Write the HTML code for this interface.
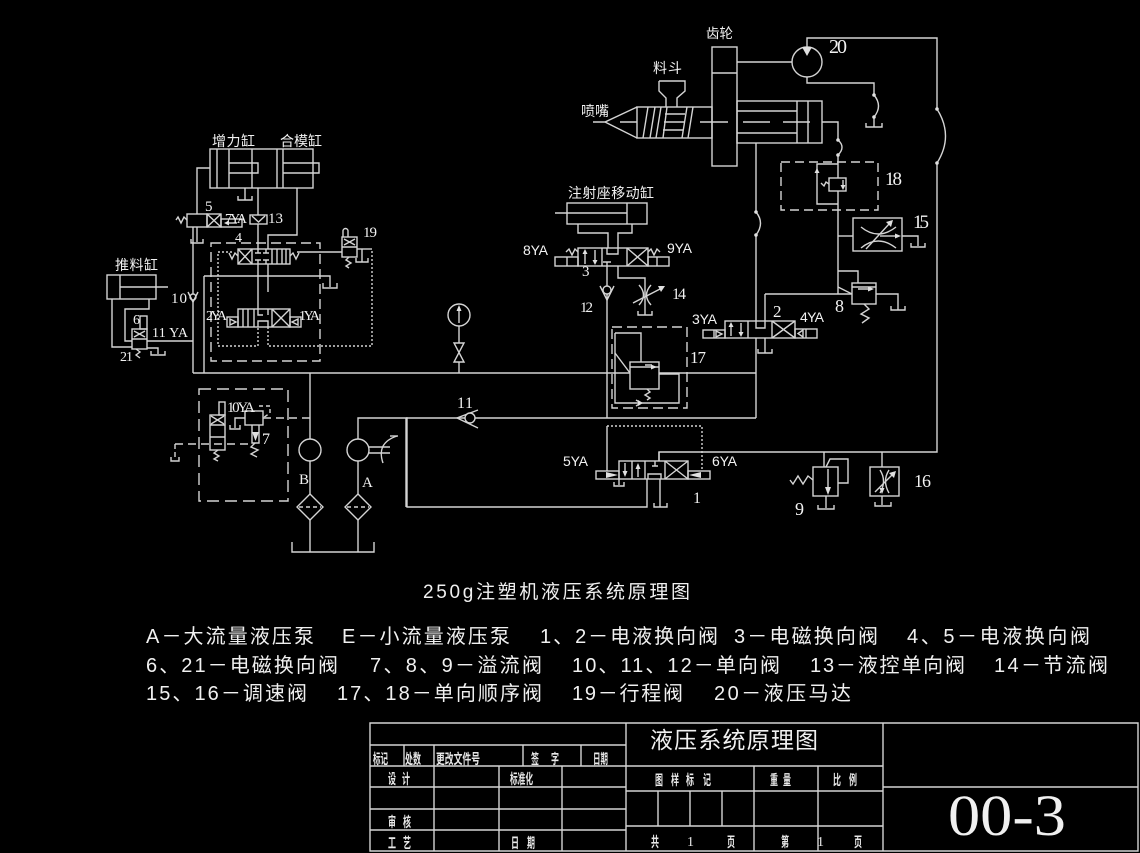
<!DOCTYPE html>
<html><head><meta charset="utf-8">
<style>
html,body{margin:0;padding:0;background:#000;}
svg{display:block}
.s{font-family:"Liberation Serif","Noto Serif CJK SC",serif}
.a{font-family:"Liberation Sans",sans-serif}
.c{font-family:"Liberation Sans","Noto Sans CJK SC",sans-serif}
</style></head><body>
<svg width="1140" height="853" viewBox="0 0 1140 853" xmlns="http://www.w3.org/2000/svg">
<rect width="1140" height="853" fill="#000"/>
<g fill="none" stroke="#d4d4d4" stroke-width="1.4">
<!-- main lines -->
<path d="M193,373H756"/>
<path d="M406,418H756"/>
<path d="M193,227V373"/>
<path d="M204,276V373"/>
<path d="M204,276H330V287M323,283V288H337V283"/>
<!-- clamp cylinders -->
<rect x="210" y="149" width="103" height="39"/>
<path d="M217,149V188M229,149V188M252,149V188M277,149V188M283,149V188"/>
<path d="M229,163H258V173H229M283,163H319V173H283"/>
<path d="M245,188V200M238,196V200H252V196"/>
<path d="M210,168H197V214"/>
<!-- valve 5 -->
<rect x="187" y="214" width="20" height="13"/>
<rect x="207" y="214" width="14" height="13"/>
<path d="M207,214L221,227M221,214L207,227"/>
<rect x="221" y="219" width="21" height="8"/>
<path d="M226,223H237"/>
<path d="M187,220L184,217L181,223L178,217L176,220"/>
<path d="M197,227V242M191,239V243H203V239"/>
<!-- check 13 -->
<rect x="250" y="215" width="17" height="9"/>
<path d="M252,216L258.5,222L265,216"/>
<path d="M258,188V215M258,224V249M258,264V309"/>
<path d="M297,188V235H268V249M268,264V292"/>
<!-- valve 4 -->
<rect x="238" y="249" width="52" height="15"/>
<path d="M252,249V264M272,249V264"/>
<path d="M238,249L252,264M252,249L238,264"/>
<path d="M258,249V253M255,253H261M258,264V260M255,260H261M266,249V253M263,253H269M266,264V260M263,260H269"/>
<path d="M277,249V264M282,249V264M286,249V264"/>
<path d="M238,256L235,253L232,259L229,253"/>
<path d="M290,256L293,253L296,259L299,253"/>
<path d="M297,252H342"/>
<rect x="211" y="243" width="109" height="118" stroke-dasharray="10,5"/>
<path d="M232,252H218V346H258V327M268,327V346H372V249" stroke-dasharray="2,2"/>
<path d="M357,249H372"/>
<path d="M362,249V262M356,258V262H368V258"/>
<!-- lower valve -->
<rect x="238" y="309" width="52" height="18"/>
<path d="M254,309V327M272,309V327M243,309V327M248,309V327"/>
<path d="M258,309V315H263M268,309V315M258,327V321H268V327"/>
<path d="M272,309L290,327M290,309L272,327"/>
<rect x="227" y="317" width="11" height="10"/>
<rect x="290" y="317" width="11" height="10"/>
<path d="M236,322L230,319V325Z"/>
<path d="M292,322L298,319V325Z"/>
<!-- push cylinder -->
<rect x="107" y="275" width="49" height="24"/>
<path d="M120,275V299M120,287H168"/>
<path d="M112,299V347H132M149,299V309H125V341H132"/>
<rect x="132" y="329" width="15" height="20"/>
<path d="M132,339H147M134,331L145,337M145,331L134,337"/>
<rect x="140" y="316" width="7" height="13"/>
<path d="M136,349L140,352L136,355L140,358"/>
<path d="M147,341H193"/>
<path d="M147,348H158V354M151,351V355H165V351"/>
<circle cx="193" cy="297" r="3" fill="#000"/>
<path d="M188,292L193,302L198,292"/>
<!-- valve 19 -->
<rect x="342" y="237" width="15" height="20"/>
<path d="M342,247H357M344,239L355,245M355,239L344,245"/>
<path d="M343,237V231A2.5,2.5 0 0 1 348,231V237"/>
<path d="M349,257L346,260L351,263L346,266L349,268"/>
<!-- pumps -->
<path d="M310,373V439"/>
<circle cx="310" cy="450" r="11"/>
<path d="M310,461V494"/>
<path d="M310,494L323,507L310,520L297,507Z"/>
<path d="M299,507H321" stroke-dasharray="4,3"/>
<path d="M310,520V552"/>
<circle cx="358" cy="450" r="11"/>
<path d="M358,439V418H407V507H647V479"/>
<path d="M358,461V494"/>
<path d="M358,494L371,507L358,520L345,507Z"/>
<path d="M347,507H369" stroke-dasharray="4,3"/>
<path d="M358,520V552"/>
<path d="M369,447H390M369,453H390"/>
<path d="M397,436Q376,443 383,463"/>
<path d="M390,436H398"/>
<path d="M292,542V552H374V542"/>
<!-- 10YA box -->
<rect x="199" y="389" width="89" height="112" stroke-dasharray="12,6"/>
<rect x="210" y="415" width="15" height="35"/>
<path d="M210,425H225M210,437H225M211,416L224,424M224,416L211,424"/>
<rect x="219" y="402" width="6" height="13"/>
<path d="M218,450L214,453L219,456L214,459L218,461"/>
<rect x="245" y="411" width="18" height="14"/>
<path d="M252,425V443H259V425"/>
<path d="M255,443L251,447L258,450L251,454L257,457"/>
<path d="M263,418H310" stroke-dasharray="8,5"/>
<path d="M175,444H252" stroke-dasharray="8,5"/>
<path d="M175,444V458" stroke-dasharray="5,3"/>
<path d="M171,457V461H179V457"/>
<path d="M245,418H235V428M230,425V429H240V425"/>
<path d="M259,406H270V413L263,418" stroke-dasharray="4,3"/>
<!-- gauge -->
<circle cx="459" cy="315" r="11"/>
<path d="M459,323V309"/>
<path d="M459,326V343"/>
<path d="M454,343H464L454,362H464Z"/>
<path d="M459,362V373"/>
<!-- check 11 -->
<path d="M406,418V507"/>
<path d="M478,410L457,418L478,428"/>
<circle cx="470" cy="418" r="5" fill="#000"/>
<!-- injection seat cylinder -->
<rect x="567" y="203" width="80" height="21"/>
<path d="M627,203V224M555,213H627"/>
<path d="M578,224V233H608V248M632,224V233H618V248"/>
<rect x="578" y="248" width="70" height="18"/>
<path d="M602,248V266M627,248V266"/>
<path d="M585,252V264M595,250V262"/>
<path d="M607,248V254H618V248M603,262H611M607,262V266"/>
<path d="M627,248L648,266M648,248L627,266"/>
<rect x="555" y="257" width="23" height="9"/>
<path d="M567,257V266"/>
<rect x="648" y="257" width="21" height="9"/>
<path d="M657,257V266"/>
<path d="M578,252L575,249L572,255L569,249L566,252"/>
<path d="M648,252L651,249L654,255L657,249L660,252"/>
<path d="M607,266V418"/>
<path d="M618,266V278H645V315M638,311V315H652V311"/>
<path d="M600,286L607,300L614,286"/>
<circle cx="607" cy="290" r="4" fill="#000"/>
<path d="M639,285Q648,295 639,305M651,285Q642,295 651,305"/>
<path d="M633,303L662,288"/>
<!-- box 17 -->
<rect x="612" y="327" width="75" height="81" stroke-dasharray="10,5"/>
<path d="M615,333H641V362M615,333V403H679V374H659"/>
<rect x="630" y="362" width="29" height="27" fill="#000"/>
<path d="M630,367H659M645,365H652"/>
<path d="M615,353L630,373"/>
<path d="M647,389L650,392L645,395L650,398L647,400"/>
<path d="M636,400L641,403L636,406"/>
<!-- valve 2 -->
<path d="M756,143V212M756,212Q765,223 756,235M756,235V321M756,338V418"/>
<rect x="725" y="321" width="70" height="17"/>
<path d="M748,321V338M772,321V338"/>
<path d="M731,325V336M741,323V334"/>
<path d="M756,321V328H765V321"/>
<path d="M772,321L795,338M795,321L772,338"/>
<rect x="703" y="330" width="22" height="8"/>
<path d="M714,330V338M716,331L722,334L716,337Z"/>
<rect x="795" y="329" width="22" height="9"/>
<path d="M806,329V338M803,330L798,333.5L803,337Z"/>
<path d="M765,294V321"/>
<path d="M765,338V353M758,349V353H772V349"/>
<path d="M765,294H852"/>
<!-- valve 8 -->
<path d="M838,155V294"/>
<rect x="852" y="283" width="24" height="21"/>
<path d="M852,287H876M858,289H871"/>
<path d="M838,271H858V283M838,287L852,294"/>
<path d="M876,294H898V310M891,306V310H905V306"/>
<path d="M864,304L869,309L861,314L869,318L862,323"/>
<!-- 15 -->
<rect x="853" y="218" width="49" height="33"/>
<path d="M861,227Q878,241 896,227M861,248Q878,234 896,248"/>
<path d="M866,249L890,223"/>
<path d="M880,236H895"/>
<path d="M838,236H853"/>
<path d="M902,236H918V246M911,243V247H925V243"/>
<!-- 18 -->
<rect x="781" y="162" width="97" height="48" stroke-dasharray="9,5"/>
<path d="M838,164H817V204H838"/>
<rect x="829" y="178" width="17" height="13" fill="#000"/>
<path d="M843,180V187"/>
<path d="M829,184L826,182L824,186L821,183"/>
<!-- motor 20 -->
<circle cx="807" cy="62" r="15"/>
<path d="M737,62H792"/>
<path d="M807,47V38H937V109"/>
<path d="M937,109Q954,136 937,163"/>
<path d="M937,163V452H659V461"/>
<path d="M807,77V83H874V95"/>
<path d="M874,95Q883,106 874,117"/>
<path d="M874,117V127M866,123V127H882V123"/>
<!-- gear & barrel -->
<rect x="712" y="47" width="25" height="119"/>
<path d="M712,73H737"/>
<rect x="637" y="107" width="75" height="31"/>
<path d="M593,122H605L637,107M605,122L637,138"/>
<path d="M643,138L648,107M650,138L655,107M656,138L661,107M663,138L667,107M682,138L687,107M688,138L693,107M665,114H685M664,122H684M663,130H683"/>
<path d="M620,122H637M700,122H728M743,122H770M783,122H810"/>
<path d="M659,81H685V91L677,98V107M659,81V91L666,98V107"/>
<rect x="737" y="101" width="85" height="42"/>
<path d="M737,111H797M737,133H797M797,101V143M808,101V143"/>
<path d="M822,122H838V140"/>
<path d="M838,140Q846,147 838,155"/>
<!-- 9 -->
<rect x="813" y="467" width="25" height="29"/>
<path d="M828,469V488"/>
<path d="M824,452V467M826,467L830,459H848V483H838"/>
<path d="M813,480L808,476L803,484L798,476L793,484L790,480"/>
<path d="M826,496V508M818,505V509H834V505"/>
<!-- 16 -->
<rect x="870" y="467" width="29" height="29"/>
<path d="M880,470Q887,481 880,493M889,470Q882,481 889,493"/>
<path d="M875,492L893,474"/>
<path d="M882,452V467"/>
<path d="M882,496V505M875,502V506H891V502"/>
<!-- valve 1 -->
<rect x="619" y="461" width="69" height="18"/>
<path d="M632,461V479M645,461V479M665,461V479"/>
<path d="M625,463V472M638,468V477"/>
<path d="M648,479V474H661V479M655,461V466M652,466H658"/>
<path d="M665,461L688,479M688,461L665,479"/>
<rect x="596" y="471" width="23" height="8"/>
<rect x="688" y="471" width="22" height="8"/>
<path d="M607,426V471"/>
<path d="M607,426H702V471" stroke-dasharray="2,2"/>
<path d="M659,452V461"/>
<path d="M660,479V507M654,503V507H667V503"/>
<path d="M619,479V485M614,482V486H624V482"/>
<!-- title block -->
<path d="M370,723H1138V851H370Z"/>
<path d="M626,723V851M883,723V851"/>
<path d="M370,745H626M370,766H883M370,787H626M370,809H626M370,830H626"/>
<path d="M404,745V766M434,745V851M523,745V766M581,745V766M499,766V851M562,766V851"/>
<path d="M626,791H883M626,826H883M754,766V851M818,766V851M658,791V826M690,791V826M722,791V826"/>
<path d="M883,787H1138"/>
</g>
<!-- filled arrowheads / dots -->
<g fill="#e0e0e0" stroke="none">
<polygon points="224,223 229,220.5 229,225.5"/>
<polygon points="459,305 456.5,311 461.5,311"/>
<polygon points="585,249 582.5,254 587.5,254"/>
<polygon points="595,265 592.5,260 597.5,260"/>
<polygon points="665,286 658,286 661,292"/>
<polygon points="657,367 651,364.5 651,369.5"/>
<polygon points="731,322 728.5,327 733.5,327"/>
<polygon points="741,337 738.5,332 743.5,332"/>
<polygon points="874,289 868,286.5 868,291.5"/>
<polygon points="893,220 886,222 891,227"/>
<polygon points="901,236 895,233.5 895,238.5"/>
<polygon points="843,190 840.5,185 845.5,185"/>
<polygon points="817,168 814.5,173 819.5,173"/>
<polygon points="802,47 812,47 807,56"/>
<polygon points="828,495 825,487 831,487"/>
<polygon points="896,471 889,473 894,478"/>
<polygon points="882,494 879.5,488 884.5,488"/>
<polygon points="625,477 622.5,471 627.5,471"/>
<polygon points="638,463 635.5,469 640.5,469"/>
<polygon points="606,472 618,475 606,478"/>
<polygon points="701,472 689,475 701,478"/>
<polygon points="252,432 259,432 255.5,441"/>
<polygon points="638,400 643,403 638,406"/>
<circle cx="937" cy="109" r="1.8"/><circle cx="937" cy="163" r="1.8"/>
<circle cx="874" cy="95" r="1.8"/><circle cx="874" cy="117" r="1.8"/>
<circle cx="838" cy="140" r="1.8"/><circle cx="838" cy="155" r="1.8"/>
<circle cx="756" cy="212" r="1.8"/><circle cx="756" cy="235" r="1.8"/>
</g>
<!-- labels -->
<g fill="#f2f2f2">
<text class="c" x="212" y="146" font-size="14" textLength="43">增力缸</text>
<text class="c" x="280" y="146" font-size="14" textLength="42">合模缸</text>
<text class="c" x="115" y="270" font-size="14" textLength="43">推料缸</text>
<text class="c" x="568" y="198" font-size="14" textLength="86">注射座移动缸</text>
<text class="c" x="706" y="38" font-size="13.5" textLength="27">齿轮</text>
<text class="c" x="653" y="73" font-size="14" textLength="29">料斗</text>
<text class="c" x="581" y="116" font-size="14" textLength="28">喷嘴</text>
<text class="s" x="829" y="53" font-size="20" textLength="18">20</text>
<text class="s" x="885" y="185" font-size="19" textLength="17">18</text>
<text class="s" x="913" y="228" font-size="19" textLength="16">15</text>
<text class="s" x="914" y="487" font-size="18" textLength="17">16</text>
<text class="s" x="795" y="515" font-size="18">9</text>
<text class="s" x="835" y="312" font-size="18">8</text>
<text class="s" x="773" y="317" font-size="17">2</text>
<text class="a" x="800" y="322" font-size="14" textLength="24">4YA</text>
<text class="a" x="692" y="324" font-size="14" textLength="25">3YA</text>
<text class="s" x="690" y="363" font-size="17" textLength="16">17</text>
<text class="s" x="672" y="299" font-size="16" textLength="14">14</text>
<text class="s" x="580" y="312" font-size="15" textLength="13">12</text>
<text class="s" x="582" y="276" font-size="15">3</text>
<text class="a" x="523" y="255" font-size="14" textLength="25">8YA</text>
<text class="a" x="667" y="253" font-size="14" textLength="25">9YA</text>
<text class="s" x="457" y="408" font-size="16" textLength="16">11</text>
<text class="a" x="563" y="466" font-size="14" textLength="25">5YA</text>
<text class="a" x="712" y="466" font-size="14" textLength="25">6YA</text>
<text class="s" x="693" y="503" font-size="16">1</text>
<text class="s" x="268" y="223" font-size="15" textLength="15">13</text>
<text class="s" x="205" y="211" font-size="15">5</text>
<text class="s" x="225" y="223" font-size="14" textLength="22">7YA</text>
<text class="s" x="235" y="242" font-size="14">4</text>
<text class="s" x="363" y="237" font-size="15" textLength="14">19</text>
<text class="s" x="171" y="303" font-size="15" textLength="16">10</text>
<text class="s" x="133" y="324" font-size="14">6</text>
<text class="s" x="152" y="337" font-size="14" textLength="36">11 YA</text>
<text class="s" x="120" y="361" font-size="14" textLength="13">21</text>
<text class="s" x="206" y="320" font-size="14" textLength="21">2YA</text>
<text class="s" x="299" y="320" font-size="14" textLength="21">1YA</text>
<text class="s" x="227" y="412" font-size="15" textLength="28">10YA</text>
<text class="s" x="262" y="444" font-size="16">7</text>
<text class="s" x="299" y="484" font-size="15">B</text>
<text class="s" x="362" y="487" font-size="15">A</text>
</g>
<!-- captions -->
<g fill="#f0f0f0">
<text class="c" x="423" y="598" font-size="19" textLength="267">250g注塑机液压系统原理图</text>
<text class="c" x="146" y="643" font-size="20" textLength="168">A－大流量液压泵</text>
<text class="c" x="342" y="643" font-size="20" textLength="168">E－小流量液压泵</text>
<text class="c" x="540" y="643" font-size="20" textLength="178">1、2－电液换向阀</text>
<text class="c" x="734" y="643" font-size="20" textLength="144">3－电磁换向阀</text>
<text class="c" x="907" y="643" font-size="20" textLength="183">4、5－电液换向阀</text>
<text class="c" x="146" y="672" font-size="20" textLength="192">6、21－电磁换向阀</text>
<text class="c" x="370" y="672" font-size="20" textLength="172">7、8、9－溢流阀</text>
<text class="c" x="572" y="672" font-size="20" textLength="208">10、11、12－单向阀</text>
<text class="c" x="810" y="672" font-size="20" textLength="155">13－液控单向阀</text>
<text class="c" x="994" y="672" font-size="20" textLength="114">14－节流阀</text>
<text class="c" x="146" y="700" font-size="20" textLength="161">15、16－调速阀</text>
<text class="c" x="337" y="700" font-size="20" textLength="205">17、18－单向顺序阀</text>
<text class="c" x="572" y="700" font-size="20" textLength="111">19－行程阀</text>
<text class="c" x="714" y="700" font-size="20" textLength="137">20－液压马达</text>
<text class="c" x="650" y="748" font-size="23" textLength="168">液压系统原理图</text>
<text class="s" x="948" y="835" font-size="58" textLength="118" lengthAdjust="spacingAndGlyphs">00-3</text>
</g>
<!-- title block small text -->
<g fill="#e8e8e8" font-size="14" font-weight="bold">
<text class="c" x="373" y="764" textLength="15" lengthAdjust="spacingAndGlyphs">标记</text>
<text class="c" x="405" y="764" textLength="16" lengthAdjust="spacingAndGlyphs">处数</text>
<text class="c" x="436" y="764" textLength="44" lengthAdjust="spacingAndGlyphs">更改文件号</text>
<text class="c" x="531" y="764" textLength="8" lengthAdjust="spacingAndGlyphs">签</text>
<text class="c" x="551" y="764" textLength="8" lengthAdjust="spacingAndGlyphs">字</text>
<text class="c" x="593" y="764" textLength="15" lengthAdjust="spacingAndGlyphs">日期</text>
<text class="c" x="388" y="784" textLength="8" lengthAdjust="spacingAndGlyphs">设</text>
<text class="c" x="402" y="784" textLength="8" lengthAdjust="spacingAndGlyphs">计</text>
<text class="c" x="510" y="784" textLength="23" lengthAdjust="spacingAndGlyphs">标准化</text>
<text class="c" x="388" y="827" textLength="8" lengthAdjust="spacingAndGlyphs">审</text>
<text class="c" x="403" y="827" textLength="8" lengthAdjust="spacingAndGlyphs">核</text>
<text class="c" x="388" y="848" textLength="8" lengthAdjust="spacingAndGlyphs">工</text>
<text class="c" x="403" y="848" textLength="8" lengthAdjust="spacingAndGlyphs">艺</text>
<text class="c" x="511" y="848" textLength="8" lengthAdjust="spacingAndGlyphs">日</text>
<text class="c" x="527" y="848" textLength="8" lengthAdjust="spacingAndGlyphs">期</text>
<text class="c" x="655" y="785" textLength="8" lengthAdjust="spacingAndGlyphs">图</text>
<text class="c" x="671" y="785" textLength="8" lengthAdjust="spacingAndGlyphs">样</text>
<text class="c" x="686" y="785" textLength="8" lengthAdjust="spacingAndGlyphs">标</text>
<text class="c" x="703" y="785" textLength="8" lengthAdjust="spacingAndGlyphs">记</text>
<text class="c" x="770" y="785" textLength="8" lengthAdjust="spacingAndGlyphs">重</text>
<text class="c" x="783" y="785" textLength="8" lengthAdjust="spacingAndGlyphs">量</text>
<text class="c" x="833" y="785" textLength="8" lengthAdjust="spacingAndGlyphs">比</text>
<text class="c" x="849" y="785" textLength="8" lengthAdjust="spacingAndGlyphs">例</text>
<text class="c" x="651" y="847" textLength="8" lengthAdjust="spacingAndGlyphs">共</text>
<text class="s" x="687" y="846" font-weight="normal">1</text>
<text class="c" x="727" y="847" textLength="8" lengthAdjust="spacingAndGlyphs">页</text>
<text class="c" x="781" y="847" textLength="8" lengthAdjust="spacingAndGlyphs">第</text>
<text class="s" x="817" y="846" font-weight="normal">1</text>
<text class="c" x="854" y="847" textLength="8" lengthAdjust="spacingAndGlyphs">页</text>
</g>
</svg>
</body></html>
